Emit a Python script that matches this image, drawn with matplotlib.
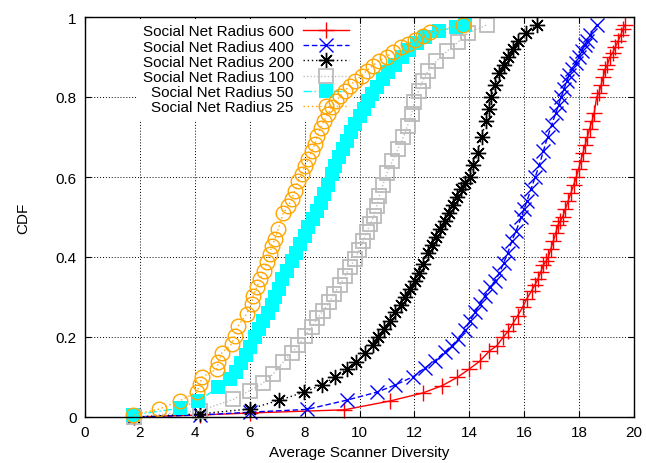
import matplotlib
matplotlib.use("Agg")
import matplotlib.pyplot as plt

plt.rcParams['font.family'] = ['Liberation Sans', 'DejaVu Sans']

labels = ["Social Net Radius 600", "Social Net Radius 400", "Social Net Radius 200",
          "Social Net Radius 100", "Social Net Radius 50", "Social Net Radius 25"]

r600_x = [1.8, 4.2, 6.0, 9.45, 11.11, 12.3, 13.0, 13.56, 14.0, 14.39, 14.73, 15.0, 15.24, 15.41,
          15.58, 15.76, 15.94, 16.09, 16.27, 16.39, 16.5, 16.6, 16.7, 16.8, 16.88, 16.97, 17.06,
          17.15, 17.23, 17.32, 17.4, 17.5, 17.6, 17.7, 17.8, 17.9, 17.98, 18.06, 18.14, 18.22,
          18.3, 18.38, 18.47, 18.55, 18.64, 18.72, 18.8, 18.88, 18.95, 19.03, 19.12, 19.22, 19.32,
          19.42, 19.52, 19.6, 19.67]
r600_y = [0.0, 0.005, 0.01, 0.018, 0.04, 0.06, 0.078, 0.099, 0.12, 0.14, 0.165, 0.178, 0.2, 0.214,
          0.233, 0.253, 0.274, 0.295, 0.316, 0.33, 0.345, 0.362, 0.38, 0.39, 0.4, 0.42, 0.44,
          0.46, 0.48, 0.49, 0.5, 0.52, 0.54, 0.56, 0.58, 0.6, 0.62, 0.64, 0.66, 0.68,
          0.7, 0.72, 0.74, 0.76, 0.8, 0.81, 0.83, 0.85, 0.87, 0.88, 0.9, 0.91, 0.925,
          0.94, 0.955, 0.97, 0.98]

r400_x = [1.8, 4.2, 6.0, 8.08, 9.53, 10.63, 11.3, 11.96, 12.39, 12.75, 13.11, 13.36, 13.6, 13.84,
          14.03, 14.21, 14.39, 14.57, 14.75, 14.94, 15.1, 15.25, 15.4, 15.55, 15.7, 15.9, 16.0,
          16.1, 16.25, 16.4, 16.55, 16.7, 16.85, 17.0, 17.15, 17.25, 17.35, 17.45, 17.55, 17.65,
          17.75, 17.88, 18.0, 18.1, 18.2, 18.3, 18.4, 18.65]
r400_y = [0.0, 0.005, 0.012, 0.019, 0.042, 0.062, 0.08, 0.101, 0.123, 0.141, 0.163, 0.178, 0.195, 0.218,
          0.241, 0.262, 0.283, 0.303, 0.324, 0.341, 0.36, 0.385, 0.41, 0.44, 0.465, 0.5, 0.52,
          0.54, 0.57, 0.6, 0.63, 0.665, 0.7, 0.73, 0.76, 0.78, 0.8, 0.82, 0.84, 0.855,
          0.87, 0.885, 0.9, 0.915, 0.93, 0.94, 0.955, 0.98]

r200_x = [1.8, 4.2, 6.0, 7.08, 7.98, 8.62, 9.12, 9.53, 9.88, 10.2, 10.48, 10.69, 10.9, 11.11, 11.29,
          11.5, 11.66, 11.84, 12.02, 12.17, 12.33, 12.5, 12.65, 12.8, 12.95, 13.1, 13.25, 13.4,
          13.55, 13.7, 13.85, 14.02, 14.15, 14.3, 14.45, 14.6, 14.7, 14.8, 14.95, 15.1, 15.25,
          15.4, 15.6, 15.79, 16.07, 16.45]
r200_y = [0.0, 0.008, 0.02, 0.042, 0.062, 0.08, 0.1, 0.12, 0.138, 0.159, 0.18, 0.2, 0.22, 0.241, 0.262,
          0.28, 0.3, 0.32, 0.341, 0.36, 0.383, 0.41, 0.43, 0.45, 0.47, 0.49, 0.51, 0.53,
          0.55, 0.57, 0.585, 0.6, 0.63, 0.66, 0.7, 0.74, 0.77, 0.8, 0.83, 0.86, 0.88,
          0.9, 0.92, 0.94, 0.96, 0.98]

r100_x = [1.8, 4.2, 5.4, 6.0, 6.47, 6.86, 7.22, 7.53, 7.77, 8.01, 8.26, 8.46, 8.68, 8.9, 9.07, 9.29,
          9.47, 9.65, 9.84, 9.99, 10.14, 10.26, 10.4, 10.53, 10.63, 10.72, 10.85, 11.0, 11.2,
          11.4, 11.6, 11.75, 11.9, 12.0, 12.15, 12.3, 12.5, 12.8, 13.2, 13.6, 13.96, 14.63]
r100_y = [0.0, 0.016, 0.044, 0.066, 0.084, 0.108, 0.137, 0.16, 0.18, 0.203, 0.224, 0.247, 0.266, 0.287, 0.308, 0.33,
          0.352, 0.374, 0.395, 0.418, 0.441, 0.462, 0.483, 0.503, 0.528, 0.553, 0.58, 0.61, 0.64,
          0.67, 0.7, 0.728, 0.758, 0.787, 0.815, 0.84, 0.865, 0.89, 0.915, 0.938, 0.96, 0.98]

r50_x = [1.76, 3.46, 4.13, 4.86, 5.3, 5.5, 5.7, 5.85, 6.0, 6.19, 6.35, 6.5, 6.65, 6.8, 6.92, 7.05,
         7.18, 7.35, 7.53, 7.68, 7.83, 8.0, 8.14, 8.3, 8.44, 8.58, 8.7, 8.85, 8.98, 9.1, 9.25,
         9.4, 9.55, 9.7, 9.85, 10.0, 10.15, 10.3, 10.45, 10.65, 10.85, 11.05, 11.3, 11.55, 11.8,
         12.1, 12.4, 12.9, 13.5, 13.84]
r50_y = [0.005, 0.022, 0.041, 0.074, 0.095, 0.112, 0.135, 0.155, 0.175, 0.2, 0.22, 0.24, 0.26, 0.28, 0.3, 0.32,
         0.345, 0.365, 0.39, 0.41, 0.432, 0.452, 0.474, 0.495, 0.515, 0.535, 0.557, 0.58, 0.607, 0.628, 0.649,
         0.67, 0.691, 0.712, 0.732, 0.752, 0.77, 0.79, 0.807, 0.825, 0.845, 0.862, 0.88, 0.9, 0.918,
         0.935, 0.95, 0.965, 0.975, 0.98]

r25_x = [1.76, 2.71, 3.46, 4.07, 4.19, 4.25, 4.8, 4.86, 4.98, 5.34, 5.46, 5.58, 5.89, 6.07, 6.13,
         6.25, 6.38, 6.52, 6.62, 6.74, 6.8, 6.92, 7.04, 7.22, 7.41, 7.53, 7.65, 7.77, 7.89, 8.01,
         8.14, 8.26, 8.38, 8.46, 8.58, 8.71, 8.86, 8.98, 9.14, 9.29, 9.47, 9.65, 9.84, 10.08,
         10.26, 10.48, 10.72, 10.99, 11.23, 11.5, 11.78, 12.02, 12.33, 12.57, 13.78]
r25_y = [0.005, 0.02, 0.041, 0.062, 0.083, 0.099, 0.12, 0.138, 0.16, 0.182, 0.203, 0.228, 0.258, 0.283, 0.303,
         0.324, 0.345, 0.366, 0.387, 0.408, 0.428, 0.445, 0.47, 0.509, 0.528, 0.545, 0.566, 0.591, 0.608, 0.628,
         0.645, 0.666, 0.683, 0.703, 0.723, 0.741, 0.758, 0.774, 0.789, 0.803, 0.816, 0.828, 0.841, 0.853,
         0.866, 0.878, 0.891, 0.901, 0.912, 0.924, 0.933, 0.943, 0.953, 0.962, 0.98]

x_ticks = [0, 2, 4, 6, 8, 10, 12, 14, 16, 18, 20]
y_ticks = [0, 0.2, 0.4, 0.6, 0.8, 1]
y_ticklabels = ["0", "0.2", "0.4", "0.6", "0.8", "1"]

fig = plt.figure(figsize=(6.46, 4.64), dpi=100)
ax = fig.add_axes([85/646, 46/464, 549/646, 400/464])
ax.set_axisbelow(True)

series = [
    (r600_x, r600_y, dict(color='#ff0000', linestyle='-', marker='+', markersize=11, mew=1.0, mfc='none')),
    (r400_x, r400_y, dict(color='#0000ff', linestyle=(0, (4, 2)), marker='x', markersize=10, mew=1.0, mfc='none')),
    (r200_x, r200_y, dict(color='#000000', linestyle=(0, (1, 2)), marker=(8, 2, 0), markersize=11, mew=1.0, mfc='none')),
    (r100_x, r100_y, dict(color='#c0c0c0', linestyle=(0, (1, 1.5)), marker='s', markersize=10, mew=1.3, mfc='none', mec='#bbbbbb')),
    (r50_x, r50_y, dict(color='#00ffff', linestyle=(0, (6, 2, 1, 2)), marker='s', markersize=10, mew=0, mfc='#00ffff')),
    (r25_x, r25_y, dict(color='#ffa500', linestyle=(0, (1, 2)), marker='o', markersize=10.5, mew=1.0, mfc='none')),
]
handles = []
for (xs, ys, st), lab in zip(series, labels):
    h, = ax.plot(xs, ys, linewidth=1.0, label=lab, clip_on=False, zorder=2, **st)
    handles.append(h)

ax.set_xlim(0, 20)
ax.set_ylim(0, 1)
ax.set_xticks(x_ticks)
ax.set_yticks(y_ticks)
ax.set_yticklabels(y_ticklabels)
ax.tick_params(direction='in', top=True, right=True, labelsize=11, length=4, pad=6)
ax.grid(True, color='black', linestyle=(0, (1, 2)), linewidth=0.7)
for s in ax.spines.values():
    s.set_linewidth(1.0)
    s.set_zorder(3)
ax.set_xlabel("Average Scanner Diversity", fontsize=11, labelpad=4)
ax.set_ylabel("CDF", fontsize=11, labelpad=18)

leg = ax.legend(handles=handles, loc='upper right', bbox_to_anchor=(0.49, 0.995), frameon=True,
                fancybox=False, facecolor='white', edgecolor='none', framealpha=1.0,
                markerfirst=False, numpoints=1, fontsize=11, handlelength=3.0,
                labelspacing=0.08, handletextpad=0.6, borderpad=0.35, borderaxespad=0.0)
leg.set_zorder(1.5)
for vp in leg._legend_handle_box.get_children():
    vp.align = 'right'

fig.savefig("out.png", dpi=100)
